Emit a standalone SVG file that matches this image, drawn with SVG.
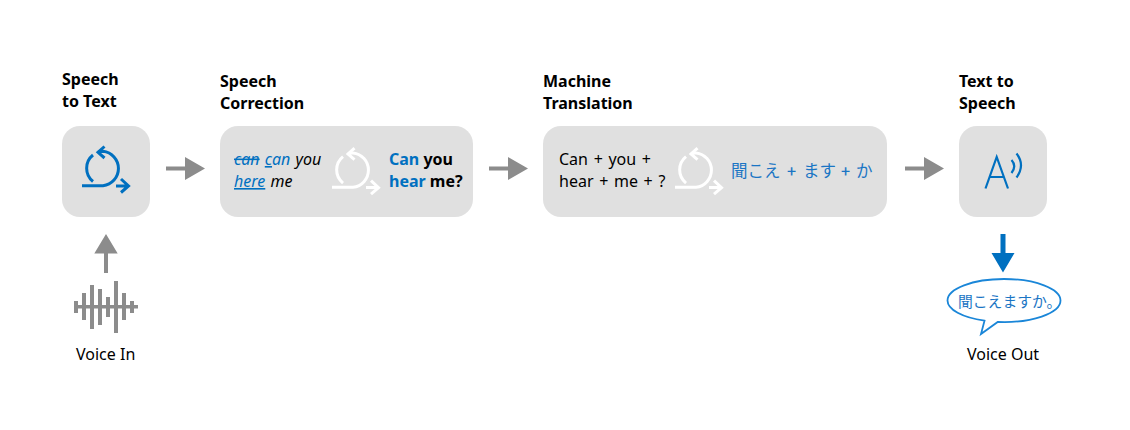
<svg xmlns="http://www.w3.org/2000/svg" width="1130" height="430" viewBox="0 0 1130 430">
<style>
text{font-family:"Noto Sans","Noto Sans CJK JP",sans-serif;font-size:16px;fill:#000}
.h{font-weight:700}
.b{fill:#0070c0}
.i{font-style:italic;word-spacing:1px}
.p{word-spacing:1.500px}
.bx{fill:#e0e0e0}
.j{font-family:"Noto Sans CJK JP","Noto Sans",sans-serif;font-size:16.500px;fill:#1a75c4}
.pl{font-size:16px;font-weight:500}
.ga{fill:#8c8c8c}
.ic{fill:none;stroke-width:3}
.a{fill:none;stroke:#0070c0;stroke-width:2.200}
</style>
<defs>
<g id="loop">
<path d="M93 155A17 17 0 0 0 93 181.500"/>
<path d="M82 185.700H103A17.300 17.300 0 0 0 103 151.300L98 152.300"/>
<path d="M104.500 146.500L98 152.300L104.500 158M116 186H128.500M121 179L128.500 186L121 192.500"/>
</g>
</defs>
<g id="connectors">
<path class="ga" d="M166 166.500H185V157L205 168.500L185 180V170.500H166Z"/>
<path class="ga" d="M489 166.500H508V157L528 168.500L508 180V170.500H489Z"/>
<path class="ga" d="M905 166.500H924V157L944 168.500L924 180V170.500H905Z"/>
<path class="ga" d="M104 273V253.500H94.300L106 234L117.700 253.500H108V273Z"/>
<path class="b" d="M1000.500 234H1005.500V253H1014.500L1003 272.500L991.500 253H1000.500Z"/>
</g>
<g id="speech-to-text">
<rect class="bx" x="62" y="126" width="88" height="91" rx="18"/>
<text class="h" x="62" y="85">Speech</text>
<text class="h" x="62" y="107">to Text</text>
<use href="#loop" class="ic" stroke="#0070c0"/>
</g>
<g id="speech-correction">
<rect class="bx" x="220" y="126" width="253" height="91" rx="18"/>
<text class="h" x="220" y="87">Speech</text>
<text class="h" x="220" y="109">Correction</text>
<text class="i" x="234" y="165"><tspan class="b" text-decoration="line-through">can</tspan> <tspan class="b" text-decoration="underline">c</tspan><tspan class="b">an</tspan> you</text>
<text class="i" x="234" y="187"><tspan class="b" text-decoration="underline">here</tspan> me</text>
<use href="#loop" class="ic" stroke="#fff" transform="translate(250 1.600)"/>
<text class="h" x="389" y="165"><tspan class="b">Can</tspan> you</text>
<text class="h" x="389" y="187"><tspan class="b">hear</tspan> me?</text>
</g>
<g id="machine-translation">
<rect class="bx" x="543" y="126" width="344" height="91" rx="18"/>
<text class="h" x="543" y="87">Machine</text>
<text class="h" x="543" y="109">Translation</text>
<text class="p" x="559" y="165">Can + you +</text>
<text class="p" x="559" y="187">hear + me + ?</text>
<use href="#loop" class="ic" stroke="#fff" transform="translate(593 1.600)"/>
<text class="j" x="731" y="177">聞こえ</text>
<text class="j pl" x="787" y="177">+</text>
<text class="j" x="803" y="177">ます</text>
<text class="j pl" x="841" y="177">+</text>
<text class="j" x="856" y="177">か</text>
</g>
<g id="text-to-speech">
<rect class="bx" x="959" y="126" width="88" height="91" rx="18"/>
<text class="h" x="959" y="87">Text to</text>
<text class="h" x="959" y="109">Speech</text>
<path class="a" d="M985.500 188.500L996.700 157L1008 188.500M989.500 177H1004M1011.500 160Q1017 166 1011.500 173M1016.500 153.500Q1025.500 165 1016.500 177.500"/>
</g>
<g id="voice-in">
<g class="ga">
<rect x="74" y="305" width="64" height="3.500"/>
<rect x="74" y="301" width="4" height="12"/>
<rect x="82" y="293" width="4" height="27"/>
<rect x="90" y="285" width="4" height="44"/>
<rect x="98" y="289" width="4" height="36"/>
<rect x="106" y="297" width="4" height="20"/>
<rect x="114" y="281" width="4" height="52"/>
<rect x="122" y="293" width="4" height="27"/>
<rect x="130" y="301" width="4" height="12"/>
</g>
<text x="76" y="360">Voice In</text>
</g>
<g id="voice-out">
<path fill="#fff" stroke="#1a86d8" stroke-width="1.800" d="M984.500 320.700A56.500 21.500 0 0 1 947.500 300.500A56.500 21.500 0 0 1 1060.500 300.500A56.500 21.500 0 0 1 997.700 321.900L981 334Z"/>
<text class="j" x="958" y="307" style="font-size:14.800px">聞こえますか。</text>
<text x="967" y="360">Voice Out</text>
</g>
</svg>
